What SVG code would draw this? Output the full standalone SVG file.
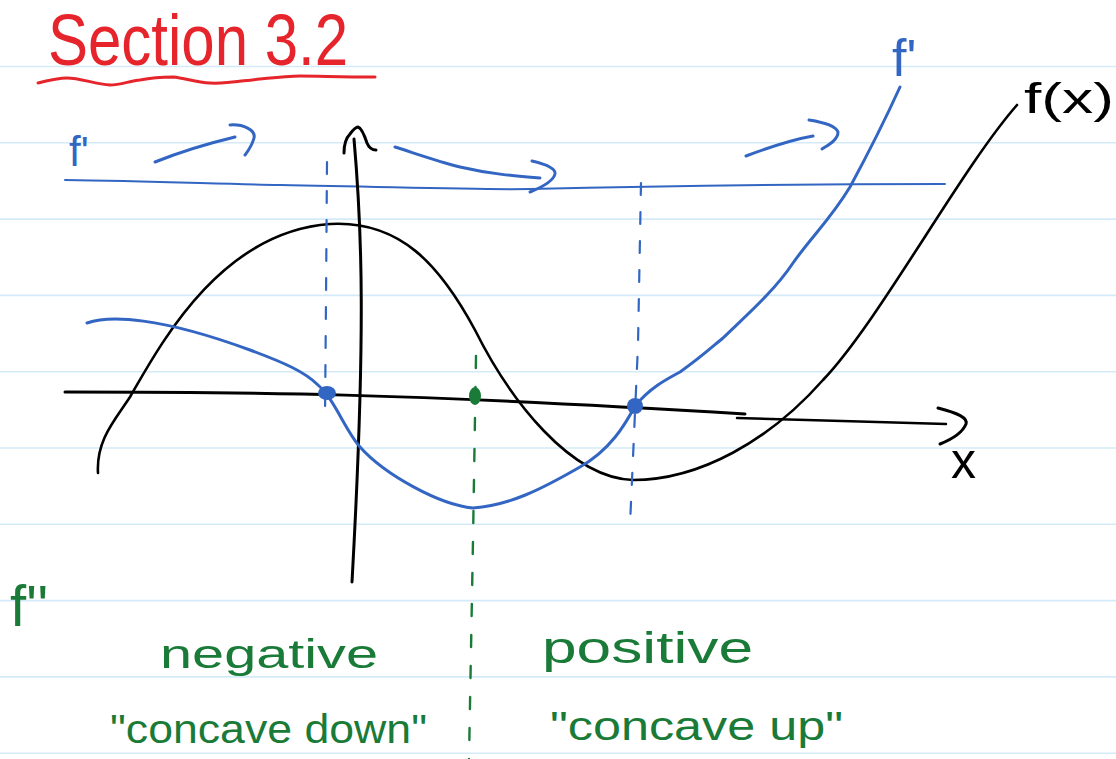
<svg xmlns="http://www.w3.org/2000/svg" width="1116" height="759" viewBox="0 0 1116 759">
<style>
.rule{stroke:#d3ebf8;stroke-width:1.6;fill:none}
.blk{stroke:#000;fill:none;stroke-linecap:round;stroke-linejoin:round}
.blu{stroke:#3366c2;fill:none;stroke-linecap:round;stroke-linejoin:round}
.grn{stroke:#1a7b38;fill:none;stroke-linecap:round}
.red{stroke:#e6242b;fill:none;stroke-linecap:round}
.hand{font-family:"Liberation Sans","DejaVu Sans",sans-serif}
</style>
<rect width="1116" height="759" fill="#fff"/>
<g id="ruled-lines">
<line class="rule" x1="0" y1="66.5" x2="1116" y2="66.5"/>
<line class="rule" x1="0" y1="142.8" x2="1116" y2="142.8"/>
<line class="rule" x1="0" y1="219.1" x2="1116" y2="219.1"/>
<line class="rule" x1="0" y1="295.4" x2="1116" y2="295.4"/>
<line class="rule" x1="0" y1="371.7" x2="1116" y2="371.7"/>
<line class="rule" x1="0" y1="448" x2="1116" y2="448"/>
<line class="rule" x1="0" y1="524.3" x2="1116" y2="524.3"/>
<line class="rule" x1="0" y1="600.6" x2="1116" y2="600.6"/>
<line class="rule" x1="0" y1="676.9" x2="1116" y2="676.9"/>
<line class="rule" x1="0" y1="753.2" x2="1116" y2="753.2"/>
</g>
<g id="title">
<text class="hand" x="48" y="65" font-size="72" fill="#e6242b" textLength="300" lengthAdjust="spacingAndGlyphs">Section 3.2</text>
<path class="red" stroke-width="3" d="M38,83 C50,80 60,78 67,78 C80,78 95,84 110,85 C120,85 130,81 140,80 C155,77 165,77 173,77 C185,78 195,82 210,83 C225,84 240,81 260,79 C280,77 290,76 300,76 C320,76 340,77 375,77"/>
</g>
<g id="fprime-sign-line">
<text class="hand" x="69" y="166" font-size="42" fill="#3366c2">f'</text>
<path class="blu" stroke-width="2" d="M65,180 C150,181 220,184 280,185 C400,187 470,190 530,189 C650,186 800,184 945,184"/>
<path class="blu" stroke-width="3" d="M155,162 C180,152 210,143 235,137"/>
<path class="blu" stroke-width="3" d="M230,125 C243,124 256,130 254,138 C252,146 248,151 245,155"/>
<path class="blu" stroke-width="3" d="M395,147 C420,155 440,162 460,167 C490,174 515,176 540,178"/>
<path class="blu" stroke-width="3" d="M532,161 C545,164 556,168 555,174 C553,182 540,188 530,192"/>
<path class="blu" stroke-width="3" d="M746,156 C770,147 790,140 813,136"/>
<path class="blu" stroke-width="3" d="M809,120 C822,122 836,126 838,132 C838,140 828,145 822,149"/>
</g>
<g id="axes">
<path class="blk" stroke-width="3" d="M65,392 C250,392 400,393 745,414"/>
<path class="blk" stroke-width="2.5" d="M737,418 C800,420 880,422 946,424"/>
<path class="blk" stroke-width="3" d="M938,408 C958,413 968,418 966,424 C962,434 950,440 940,444"/>
<path class="blk" stroke-width="3" d="M354,139 C362,230 366,330 352,582"/>
<path class="blk" stroke-width="3" d="M344,153 C344,145 346,138 350,134 C353,130 356,127 358,127 C362,128 365,137 367,143 C369,148 372,150 376,150"/>
<text class="hand" x="951" y="478" font-size="50" fill="#000">x</text>
</g>
<g id="f-curve">
<path class="blk" stroke-width="2.6" d="M98,473 C96,440 115,420 130,397 C160,345 220,232 330,224 C400,220 440,265 475,330 C510,400 570,478 633,480 C700,480 770,440 823,380 C880,320 960,170 1017,105"/>
<text class="hand" x="1024" y="113" font-size="42" fill="#000" textLength="90" lengthAdjust="spacingAndGlyphs">f(x)</text>
</g>
<g id="fprime-curve">
<path class="blu" stroke-width="3" d="M87,323 C110,315 160,317 250,350 C285,363 305,372 318,385 C335,400 345,430 360,447 C385,475 440,505 473,508 C510,505 540,490 580,467 C610,450 625,425 635,406 C650,388 665,380 680,372 C700,358 712,347 723,338 C750,312 775,290 793,263 C812,236 830,220 850,187 C870,150 885,120 900,87"/>
<text class="hand" x="892" y="76" font-size="52" fill="#3366c2">f'</text>
</g>
<g id="guides">
<path class="blu" stroke-width="2.2" stroke-dasharray="12 17" d="M327,162 L326,300 L325,418"/>
<path class="blu" stroke-width="2.2" stroke-dasharray="12 17" d="M641,183 L638,345 L630,525"/>
<path class="grn" stroke-width="2.4" stroke-dasharray="12 19" d="M476,356 L473,540 L469,759"/>
</g>
<g id="points">
<ellipse cx="327" cy="393" rx="9" ry="7" fill="#3366c2"/>
<ellipse cx="635" cy="406" rx="8" ry="8" fill="#3366c2"/>
<ellipse cx="475" cy="396" rx="6" ry="9" fill="#1a7b38"/>
</g>
<g id="second-derivative-labels" fill="#1a7b38">
<text class="hand" x="10" y="626" font-size="58">f''</text>
<text class="hand" x="160" y="668" font-size="40" textLength="218" lengthAdjust="spacingAndGlyphs">negative</text>
<text class="hand" x="110" y="743" font-size="40" textLength="317" lengthAdjust="spacingAndGlyphs">"concave down"</text>
<text class="hand" x="542" y="663" font-size="44" textLength="211" lengthAdjust="spacingAndGlyphs">positive</text>
<text class="hand" x="550" y="740" font-size="40" textLength="293" lengthAdjust="spacingAndGlyphs">"concave up"</text>
</g>
</svg>
